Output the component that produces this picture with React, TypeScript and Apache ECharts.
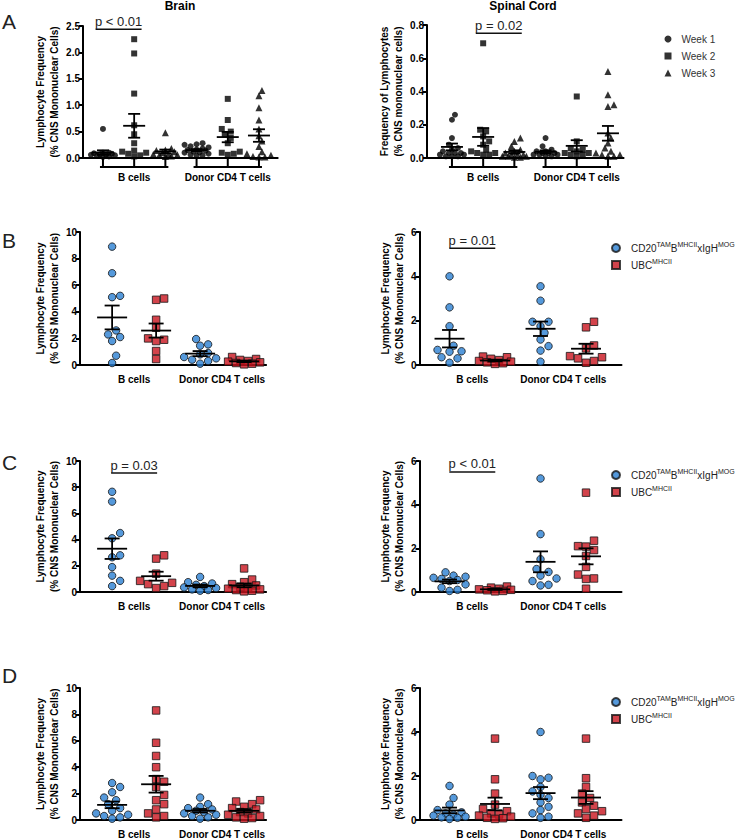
import React, { useEffect, useRef } from 'react';
import * as echarts from 'echarts';

const FONT = '"Liberation Sans", Arial, Helvetica, sans-serif';

// ---------- names, labels, ticks ----------
const WEEK_NAMES = ['Week 1', 'Week 2', 'Week 3'];
const CD20_NAME = 'CD20TAMBMHCIIxIgHMOG';
const UBC_NAME = 'UBCMHCII';
const GROUP_LABELS = ['B cells', 'Donor CD4 T cells'];
const PANEL_LETTERS = ['A', 'B', 'C', 'D'];
const COLUMN_TITLES = ['Brain', 'Spinal Cord'];
const BRAIN_TICKS = [0, 0.5, 1.0, 1.5, 2.0, 2.5];
const SPINAL_TICKS = [0, 0.2, 0.4, 0.6, 0.8];
const LEFT_TICKS = [0, 2, 4, 6, 8, 10];
const RIGHT_TICKS = [0, 2, 4, 6];

// ---------- Panel A: Brain ----------
const brainBWeek1 = [0.55, 0.1, 0.09, 0.08, 0.07, 0.06, 0.05, 0.04, 0.03, 0.02, 0.1, 0.06];
const brainBWeek2 = [2.25, 1.98, 1.22, 0.62, 0.45, 0.28, 0.14, 0.12, 0.1, 0.08, 0.05, 0.03];
const brainBWeek3 = [0.48, 0.18, 0.15, 0.14, 0.12, 0.1, 0.08, 0.07, 0.06, 0.05, 0.04, 0.03];
const brainTWeek1 = [0.28, 0.26, 0.25, 0.22, 0.2, 0.18, 0.16, 0.14, 0.12, 0.1, 0.08, 0.06, 0.05, 0.04, 0.15, 0.11];
const brainTWeek2 = [1.12, 0.72, 0.55, 0.5, 0.45, 0.38, 0.28, 0.1, 0.08, 0.12, 0.06];
const brainTWeek3 = [1.28, 1.18, 0.95, 0.72, 0.55, 0.42, 0.32, 0.22, 0.12, 0.08, 0.05, 0.03, 0.02, 0.02];

// ---------- Panel A: Spinal cord ----------
const spinalBWeek1 = [0.26, 0.23, 0.12, 0.08, 0.06, 0.05, 0.04, 0.03, 0.03, 0.02, 0.02, 0.01, 0.01, 0.01, 0.03];
const spinalBWeek2 = [0.69, 0.17, 0.16, 0.13, 0.1, 0.08, 0.05, 0.04, 0.03, 0.03, 0.02, 0.02];
const spinalBWeek3 = [0.12, 0.1, 0.07, 0.05, 0.04, 0.03, 0.02, 0.02, 0.01, 0.01, 0.005, 0.005, 0.01, 0.02];
const spinalTWeek1 = [0.12, 0.07, 0.05, 0.04, 0.04, 0.03, 0.03, 0.02, 0.02, 0.01, 0.01, 0.02, 0.03];
const spinalTWeek2 = [0.37, 0.1, 0.06, 0.05, 0.04, 0.03, 0.03, 0.02, 0.02, 0.01];
const spinalTWeek3 = [0.52, 0.38, 0.32, 0.31, 0.15, 0.12, 0.09, 0.06, 0.04, 0.02, 0.01, 0.01, 0.02, 0.03];

// ---------- Panel B ----------
const bLeftBCd20 = [8.9, 6.9, 5.2, 5.1, 2.6, 2.3, 2.1, 1.8, 0.7, 0.15];
const bLeftBUbc = [5.0, 4.9, 3.4, 2.8, 2.0, 1.9, 1.8, 1.05, 0.45];
const bLeftTCd20 = [1.95, 1.55, 1.45, 0.9, 0.8, 0.6, 0.5, 0.4, 0.3, 0.1];
const bLeftTUbc = [0.6, 0.45, 0.38, 0.3, 0.25, 0.2, 0.15, 0.1, 0.05];
const bRightBCd20 = [4.0, 2.6, 1.75, 0.87, 0.68, 0.62, 0.6, 0.35, 0.3, 0.1];
const bRightBUbc = [0.38, 0.35, 0.28, 0.22, 0.18, 0.15, 0.12, 0.08, 0.05];
const bRightTCd20 = [3.55, 2.9, 1.95, 1.95, 1.75, 1.45, 1.15, 0.85, 0.65, 0.15];
const bRightTUbc = [1.95, 1.7, 0.88, 0.75, 0.4, 0.35, 0.3, 0.18, 0.1];

// ---------- Panel C ----------
const cLeftBCd20 = [7.65, 6.9, 4.5, 4.1, 2.8, 2.65, 1.9, 1.25, 0.85, 0.45];
const cLeftBUbc = [2.8, 2.55, 1.4, 0.85, 0.7, 0.6, 0.45, 0.3];
const cLeftTCd20 = [1.15, 0.75, 0.65, 0.55, 0.45, 0.35, 0.3, 0.2, 0.15, 0.1];
const cLeftTUbc = [1.8, 0.95, 0.75, 0.6, 0.5, 0.4, 0.3, 0.25, 0.2, 0.15, 0.1, 0.05];
const cRightBCd20 = [0.9, 0.75, 0.7, 0.65, 0.6, 0.55, 0.5, 0.35, 0.2, 0.1, 0.05];
const cRightBUbc = [0.25, 0.2, 0.15, 0.12, 0.1, 0.08, 0.05, 0.03];
const cRightTCd20 = [5.2, 2.65, 1.5, 1.05, 0.92, 0.75, 0.62, 0.5, 0.33, 0.3];
const cRightTUbc = [4.55, 2.35, 2.1, 2.08, 1.92, 1.65, 1.15, 0.8, 0.62, 0.6, 0.15];

// ---------- Panel D ----------
const dLeftBCd20 = [2.8, 2.5, 2.1, 1.7, 1.5, 1.2, 0.9, 0.7, 0.5, 0.4, 0.3, 0.2, 0.1];
const dLeftBUbc = [8.3, 5.85, 4.85, 4.0, 3.1, 2.9, 2.5, 1.9, 1.5, 1.2, 0.8, 0.5, 0.3, 0.2];
const dLeftTCd20 = [1.7, 1.2, 1.0, 0.9, 0.8, 0.7, 0.6, 0.5, 0.4, 0.3, 0.2, 0.1];
const dLeftTUbc = [1.5, 1.4, 1.2, 1.0, 0.9, 0.8, 0.6, 0.5, 0.4, 0.3, 0.2, 0.15, 0.1];
const dRightBCd20 = [1.55, 1.0, 0.7, 0.45, 0.35, 0.3, 0.25, 0.2, 0.15, 0.12, 0.1, 0.05];
const dRightBUbc = [3.7, 1.85, 1.2, 0.7, 0.5, 0.4, 0.3, 0.25, 0.2, 0.15, 0.1, 0.08, 0.05];
const dRightTCd20 = [4.0, 2.0, 1.92, 1.85, 1.5, 1.3, 1.15, 1.0, 0.8, 0.6, 0.45, 0.3, 0.15, 0.1];
const dRightTUbc = [3.7, 1.9, 1.5, 1.2, 1.0, 0.8, 0.65, 0.5, 0.4, 0.3, 0.2, 0.1];

// ---------- significance annotations (column a vs column b, at value y) ----------
const pBrain = [{ a: 0, b: 1, y: 2.44, label: 'p < 0.01' }];
const pSpinal = [{ a: 1, b: 2, y: 0.75, label: 'p = 0.02' }];
const pBRight = [{ a: 0, b: 1, y: 5.27, label: 'p = 0.01' }];
const pCLeft = [{ a: 0, b: 1, y: 9.08, label: 'p = 0.03' }];
const pCRight = [{ a: 0, b: 1, y: 5.5, label: 'p < 0.01' }];

// ---------- helpers ----------
const mean = (a: number[]) => a.reduce((s, v) => s + v, 0) / a.length;
const sem = (a: number[]) => {
  const m = mean(a);
  const v = a.reduce((s, x) => s + (x - m) * (x - m), 0) / (a.length - 1);
  return Math.sqrt(v / a.length);
};

// beeswarm-style horizontal offsets (pixels) so that markers do not overlap
function swarm(values: number[], pxPerY: number, diam: number, maxOff: number): number[] {
  const order = values.map((_, i) => i).sort((a, b) => values[a] - values[b]);
  const placed: { x: number; y: number }[] = [];
  const offs = new Array(values.length).fill(0);
  const st = diam / 2;
  const cands: number[] = [0];
  for (let k = 1; k * st <= maxOff + 0.01; k++) cands.push(k * st, -k * st);
  for (const i of order) {
    const y = values[i] * pxPerY;
    let best = 0;
    let bestD = -1;
    let chosen: number | null = null;
    for (const c of cands) {
      let md = Infinity;
      for (const p of placed) {
        const d = Math.hypot(p.x - c, p.y - y);
        if (d < md) md = d;
      }
      if (md >= diam * 0.95) {
        chosen = c;
        break;
      }
      if (md > bestD) {
        bestD = md;
        best = c;
      }
    }
    const x = chosen !== null ? chosen : best;
    offs[i] = x;
    placed.push({ x, y });
  }
  return offs;
}

const BLUE = { color: '#2A7FD2', borderColor: '#151515', borderWidth: 1 };
const RED = { color: '#C8141E', borderColor: '#151515', borderWidth: 1 };
const BLACK = { color: '#000' };

const weekLayout = { step: 31.2, diam: 6, spread: 12, meanHalf: 11, capHalf: 6, labelMargin: 14 };
const treatLayout = { diam: 8, spread: 17, meanHalf: 15, capHalf: 7.5, labelMargin: 9 };

const yNameStd = 'Lymphocyte Frequency\n(% CNS Mononuclear Cells)';

const PANELS: any[] = [
  {
    columns: [brainBWeek1, brainBWeek2, brainBWeek3, brainTWeek1, brainTWeek2, brainTWeek3],
    colSeries: [0, 1, 2, 0, 1, 2], names: WEEK_NAMES, symbols: ['circle', 'rect', 'triangle'],
    sizes: [6, 6, 7], styles: [BLACK, BLACK, BLACK], ticks: BRAIN_TICKS, dec: 1,
    yName: yNameStd, centers: [1, 4], brackets: [[0, 2], [3, 5]], pv: pBrain,
    L: { ...weekLayout, left: 83, top: 26, height: 132, xMin: -0.64, xMax: 5.6, nameGap: 21 },
  },
  {
    columns: [spinalBWeek1, spinalBWeek2, spinalBWeek3, spinalTWeek1, spinalTWeek2, spinalTWeek3],
    colSeries: [0, 1, 2, 0, 1, 2], names: WEEK_NAMES, symbols: ['circle', 'rect', 'triangle'],
    sizes: [6, 6, 7], styles: [BLACK, BLACK, BLACK], ticks: SPINAL_TICKS, dec: 1,
    yName: 'Frequency of Lymphocytes\n(% CNS mononuclear cells)', centers: [1, 4], brackets: [[0, 2], [3, 5]], pv: pSpinal,
    L: { ...weekLayout, left: 427, top: 25, height: 133, xMin: -0.8, xMax: 5.5, nameGap: 21 },
  },
];

const treatRows = [
  { top: 232, height: 133, left: [bLeftBCd20, bLeftBUbc, bLeftTCd20, bLeftTUbc], right: [bRightBCd20, bRightBUbc, bRightTCd20, bRightTUbc], pl: [] as any[], pr: pBRight },
  { top: 461, height: 131, left: [cLeftBCd20, cLeftBUbc, cLeftTCd20, cLeftTUbc], right: [cRightBCd20, cRightBUbc, cRightTCd20, cRightTUbc], pl: pCLeft, pr: pCRight },
  { top: 688, height: 132, left: [dLeftBCd20, dLeftBUbc, dLeftTCd20, dLeftTUbc], right: [dRightBCd20, dRightBUbc, dRightTCd20, dRightTUbc], pl: [] as any[], pr: [] as any[] },
];
treatRows.forEach((r) => {
  const common = {
    colSeries: [0, 1, 0, 1], names: [CD20_NAME, UBC_NAME], symbols: ['circle', 'rect'],
    sizes: [7.5, 7.5], styles: [BLUE, RED], dec: 0, yName: yNameStd, centers: [0.5, 2.5], brackets: [],
  };
  PANELS.push({
    ...common, columns: r.left, ticks: LEFT_TICKS, pv: r.pl,
    L: { ...treatLayout, left: 80, top: r.top, height: r.height, xMin: -0.73, xMax: 3.5, step: 44, nameGap: 18 },
  });
  PANELS.push({
    ...common, columns: r.right, ticks: RIGHT_TICKS, pv: r.pr,
    L: { ...treatLayout, left: 419.5, top: r.top, height: r.height, xMin: -0.66, xMax: 3.78, step: 45.5, nameGap: 11 },
  });
});

function buildOption() {
  const grid: any[] = [];
  const xAxis: any[] = [];
  const yAxis: any[] = [];
  const series: any[] = [];

  PANELS.forEach((p, i) => {
    const L = p.L;
    const yMax = p.ticks[p.ticks.length - 1];
    const pxPerY = L.height / yMax;
    grid.push({ left: L.left, top: L.top, width: (L.xMax - L.xMin) * L.step, height: L.height });
    xAxis.push({
      gridIndex: i, type: 'value', min: L.xMin, max: L.xMax,
      axisLine: { show: true, onZero: false, lineStyle: { color: '#000', width: 2 } },
      axisTick: { show: false }, splitLine: { show: false },
      axisLabel: {
        show: true, customValues: p.centers, margin: L.labelMargin,
        formatter: (v: number) => {
          const k = p.centers.findIndex((c: number) => Math.abs(c - v) < 1e-6);
          return k >= 0 ? GROUP_LABELS[k] : '';
        },
        fontSize: 10, fontWeight: 'bold', color: '#000', fontFamily: FONT,
      },
    });
    yAxis.push({
      gridIndex: i, type: 'value', min: 0, max: yMax, interval: p.ticks[1] - p.ticks[0],
      name: p.yName, nameLocation: 'middle', nameRotate: 90, nameGap: L.nameGap,
      nameTextStyle: { fontSize: 10, fontWeight: 'bold', color: '#000', lineHeight: 14.5, fontFamily: FONT },
      axisLine: { show: true, onZero: false, lineStyle: { color: '#000', width: 2 } },
      axisTick: { show: true, length: 4, lineStyle: { color: '#000', width: 2 } },
      axisLabel: { formatter: (v: number) => v.toFixed(p.dec), fontSize: 10, fontWeight: 'bold', color: '#000', margin: 3, fontFamily: FONT },
      splitLine: { show: false },
    });

    p.names.forEach((name: string, s: number) => {
      const data: number[][] = [];
      p.columns.forEach((col: number[], ci: number) => {
        if (p.colSeries[ci] !== s) return;
        const offs = swarm(col, pxPerY, L.diam, L.spread);
        col.forEach((v, k) => data.push([ci + offs[k] / L.step, v]));
      });
      series.push({
        type: 'scatter', name, xAxisIndex: i, yAxisIndex: i, data,
        symbol: p.symbols[s], symbolSize: p.sizes[s], itemStyle: p.styles[s], z: 3, silent: true,
      });
    });

    series.push({
      type: 'custom', xAxisIndex: i, yAxisIndex: i, z: 5, silent: true,
      data: p.columns.map((col: number[], ci: number) => {
        const m = mean(col);
        const e = sem(col);
        return [ci, m, Math.max(0, m - e), m + e];
      }),
      encode: { x: 0, y: [1, 2, 3] },
      renderItem: (_params: any, api: any) => {
        const x = api.value(0);
        const pm = api.coord([x, api.value(1)]);
        const pl = api.coord([x, api.value(2)]);
        const ph = api.coord([x, api.value(3)]);
        const st = { stroke: '#000', lineWidth: 1.8 };
        const mh = L.meanHalf;
        const ch = L.capHalf;
        return {
          type: 'group',
          children: [
            { type: 'line', shape: { x1: pm[0] - mh, y1: pm[1], x2: pm[0] + mh, y2: pm[1] }, style: st },
            { type: 'line', shape: { x1: pl[0], y1: pl[1], x2: ph[0], y2: ph[1] }, style: st },
            { type: 'line', shape: { x1: ph[0] - ch, y1: ph[1], x2: ph[0] + ch, y2: ph[1] }, style: st },
            { type: 'line', shape: { x1: pl[0] - ch, y1: pl[1], x2: pl[0] + ch, y2: pl[1] }, style: st },
          ],
        };
      },
    });

    if (p.brackets.length) {
      series.push({
        type: 'custom', xAxisIndex: i, yAxisIndex: i, z: 5, silent: true, clip: false,
        data: p.brackets, encode: { x: [0, 1] },
        renderItem: (_params: any, api: any) => {
          const a = api.value(0);
          const b = api.value(1);
          const pa = api.coord([a, 0]);
          const pb = api.coord([b, 0]);
          const yb = pa[1] + 9;
          const st = { stroke: '#000', lineWidth: 2 };
          const children: any[] = [
            { type: 'line', shape: { x1: pa[0] - 3, y1: yb, x2: pb[0] + 3, y2: yb }, style: st },
          ];
          for (let c = a; c <= b; c++) {
            const pc = api.coord([c, 0]);
            children.push({ type: 'line', shape: { x1: pc[0], y1: pc[1], x2: pc[0], y2: yb }, style: st });
          }
          return { type: 'group', children };
        },
      });
    }

    if (p.pv.length) {
      series.push({
        type: 'custom', xAxisIndex: i, yAxisIndex: i, z: 6, silent: true, clip: false,
        data: p.pv.map((q: any) => [q.a, q.b, q.y]), encode: { x: [0, 1], y: 2 },
        renderItem: (params: any, api: any) => {
          const pa = api.coord([api.value(0), api.value(2)]);
          const pb = api.coord([api.value(1), api.value(2)]);
          const mid = (pa[0] + pb[0]) / 2;
          const y = pa[1];
          return {
            type: 'group',
            children: [
              { type: 'line', shape: { x1: mid - 23, y1: y, x2: mid + 23, y2: y }, style: { stroke: '#111', lineWidth: 1.5 } },
              {
                type: 'text', x: mid, y: y - 1.5,
                style: { text: p.pv[params.dataIndex].label, fontSize: 13, fontFamily: FONT, fill: '#222', align: 'center', verticalAlign: 'bottom' },
              },
            ],
          };
        },
      });
    }
  });

  const richLegend = {
    n: { fontSize: 10, color: '#222', lineHeight: 14, verticalAlign: 'middle', fontFamily: FONT },
    s: { fontSize: 7, color: '#222', lineHeight: 10, verticalAlign: 'top', fontFamily: FONT },
  };
  const treatLegend = (top: number) => ({
    left: 606, top, orient: 'vertical', itemWidth: 8, itemHeight: 8, itemGap: 5,
    data: [{ name: CD20_NAME, icon: 'circle' }, { name: UBC_NAME, icon: 'rect' }],
    formatter: (name: string) =>
      name === CD20_NAME ? '{n|CD20}{s|TAM}{n|B}{s|MHCII}{n|xIgH}{s|MOG}' : '{n|UBC}{s|MHCII}',
    textStyle: { rich: richLegend, padding: [0, 0, 0, 6] },
    selectedMode: false,
  });

  const legend = [
    {
      left: 659.5, top: 28, orient: 'vertical', itemWidth: 7, itemHeight: 7, itemGap: 5,
      data: WEEK_NAMES.map((n, k) => ({ name: n, icon: ['circle', 'rect', 'triangle'][k] })),
      textStyle: { fontSize: 10, color: '#333', lineHeight: 12, padding: [0, 0, 0, 5], fontFamily: FONT },
      selectedMode: false,
    },
    treatLegend(236),
    treatLegend(463),
    treatLegend(690),
  ];

  const letterY = [21, 240, 462, 675];
  const graphic: any[] = [
    { type: 'text', x: 180, y: 6, style: { text: COLUMN_TITLES[0], fontSize: 12, fontWeight: 'bold', fontFamily: FONT, fill: '#000', align: 'center', verticalAlign: 'middle' } },
    { type: 'text', x: 523, y: 6, style: { text: COLUMN_TITLES[1], fontSize: 12, fontWeight: 'bold', fontFamily: FONT, fill: '#000', align: 'center', verticalAlign: 'middle' } },
    ...PANEL_LETTERS.map((t, k) => ({
      type: 'text', x: 2, y: letterY[k],
      style: { text: t, fontSize: 21, fontFamily: FONT, fill: '#222', align: 'left', verticalAlign: 'middle' },
    })),
  ];

  return {
    animation: false,
    backgroundColor: '#fff',
    textStyle: { fontFamily: FONT },
    grid, xAxis, yAxis, series, legend, graphic,
  };
}

export default function App() {
  const ref = useRef<HTMLDivElement>(null);
  useEffect(() => {
    document.body.style.margin = '0';
    if (!ref.current) return;
    const chart = echarts.init(ref.current, undefined, { renderer: 'svg' });
    chart.setOption(buildOption() as any);
    return () => chart.dispose();
  }, []);
  return <div ref={ref} style={{ width: 740, height: 840 }} />;
}
